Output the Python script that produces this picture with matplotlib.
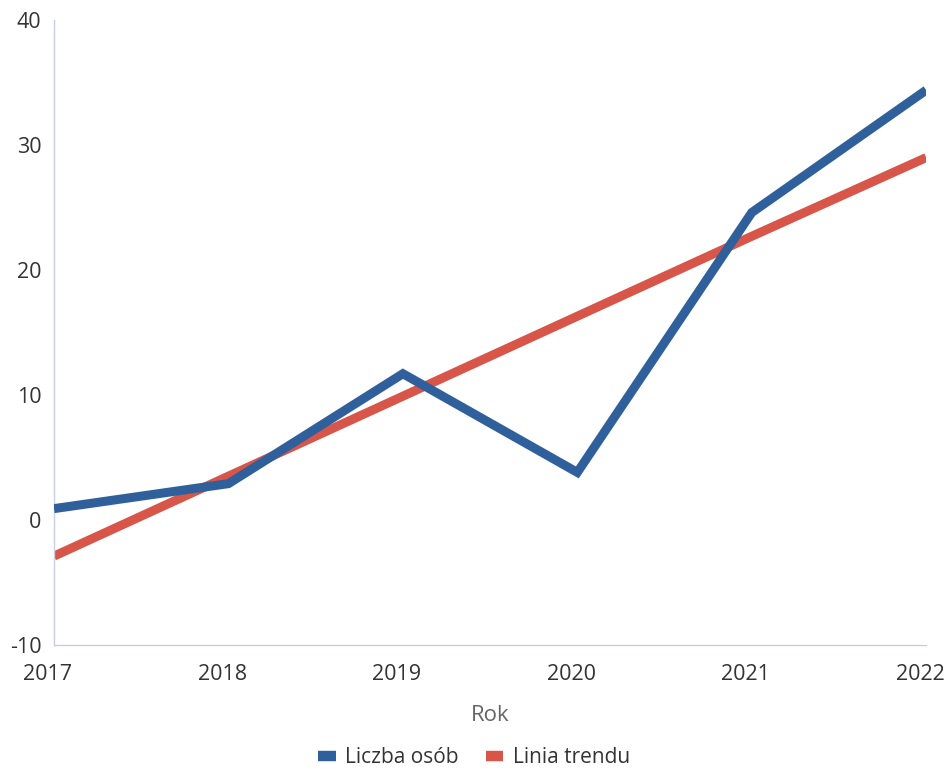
import matplotlib
matplotlib.use("Agg")
import matplotlib.pyplot as plt
import matplotlib.transforms as mtransforms
from matplotlib.lines import Line2D

# data
years = [2017, 2018, 2019, 2020, 2021, 2022]
liczba_osob = [0.9, 2.9, 11.7, 3.8, 24.6, 34.4]
linia_trendu = [-2.9, 3.5, 9.9, 16.3, 22.7, 29.0]
y_ticks = [-10, 0, 10, 20, 30, 40]

BLUE = "#30609b"
RED = "#d8554a"
TXT = "#333333"

plt.rcParams["font.family"] = ["Open Sans", "DejaVu Sans"]
plt.rcParams["axes.unicode_minus"] = False

fig = plt.figure(figsize=(9.48, 7.75), dpi=100)
ax = fig.add_axes([0.057, 0.168, 0.920, 0.806])

ax.plot(years, liczba_osob, color=BLUE, lw=6.5, solid_joinstyle="miter", solid_capstyle="butt", zorder=3)
ax.plot(years, linia_trendu, color=RED, lw=6.5, solid_capstyle="butt", zorder=2)

ax.set_xlim(years[0], years[-1])
ax.set_ylim(-10, 40)
ax.set_xticks(years)
ax.set_yticks(y_ticks)
ax.tick_params(axis="both", length=0, labelsize=15.5, colors=TXT)
ax.tick_params(axis="x", pad=14)
ax.tick_params(axis="y", pad=9)

# x labels sit a little left of their ticks in the reference
shift = mtransforms.ScaledTranslation(-6 / 100, 0, fig.dpi_scale_trans)
for lbl in ax.get_xticklabels():
    lbl.set_transform(lbl.get_transform() + shift)

for s in ("top", "right"):
    ax.spines[s].set_visible(False)
for s in ("left", "bottom"):
    ax.spines[s].set_color("#c9cde3")
    ax.spines[s].set_linewidth(1)

ax.set_xlabel("Rok", fontsize=16, color="#666666", labelpad=14)

handles = [
    Line2D([], [], color=BLUE, lw=7.5, solid_capstyle="butt"),
    Line2D([], [], color=RED, lw=7.5, solid_capstyle="butt"),
]
fig.legend(handles, ["Liczba osób", "Linia trendu"], loc="center",
           bbox_to_anchor=(0.5, 0.022), ncol=2, frameon=False, fontsize=15,
           handlelength=0.85, handletextpad=0.45, columnspacing=1.3, labelcolor=TXT)

fig.savefig("out.png", dpi=100)
